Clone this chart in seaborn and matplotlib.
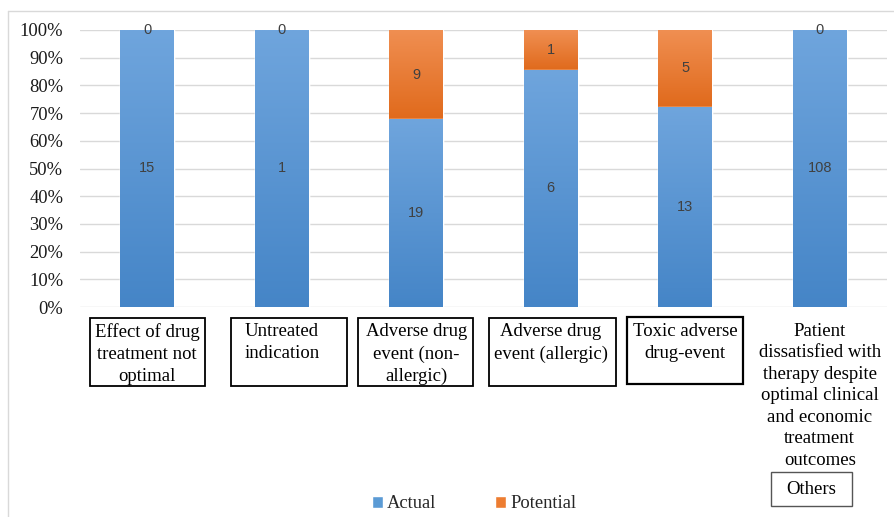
import numpy as np
import pandas as pd
import matplotlib
matplotlib.use("Agg")
import matplotlib.pyplot as plt
from matplotlib.patches import Rectangle, Patch
from matplotlib.colors import LinearSegmentedColormap
import matplotlib.transforms as mtransforms
import seaborn as sns

# ---- data ----
categories = [
    "Effect of drug\ntreatment not\noptimal",
    "Untreated\nindication",
    "Adverse drug\nevent (non-\nallergic)",
    "Adverse drug\nevent (allergic)",
    "Toxic adverse\ndrug-event",
    "Patient\ndissatisfied with\ntherapy despite\noptimal clinical\nand economic\ntreatment\noutcomes",
]
actual = [15, 1, 19, 6, 13, 108]
potential = [0, 0, 9, 1, 5, 0]
yticklabels = ["0%", "10%", "20%", "30%", "40%", "50%", "60%", "70%", "80%", "90%", "100%"]
group_label = "Others"
series_names = ["Actual", "Potential"]

sns.set_theme(style="white")
plt.rcParams["font.family"] = ["Liberation Serif", "DejaVu Serif"]

W, H = 895, 517
fig = plt.figure(figsize=(W / 100, H / 100), dpi=100)
ax = fig.add_axes([80 / W, 1 - 307 / H, 807 / W, 277 / H])

df = pd.DataFrame({"cat": [f"c{i}" for i in range(len(actual))],
                   "actual": actual, "potential": potential})
df["total"] = df["actual"] + df["potential"]
df["act_share"] = df["actual"] / df["total"]
df["tot_share"] = 1.0

BLUE, ORANGE = "#5B9BD5", "#ED7D31"
sns.barplot(data=df, x="cat", y="tot_share", color=ORANGE, width=0.40,
            ax=ax, saturation=1)
sns.barplot(data=df, x="cat", y="act_share", color=BLUE, width=0.40,
            ax=ax, saturation=1)
if ax.get_legend() is not None:
    ax.get_legend().remove()

n = len(actual)
pot_patches = ax.patches[:n]
act_patches = ax.patches[n:2 * n]

blue_cmap = LinearSegmentedColormap.from_list("b", ["#4585C7", "#6FA5DD"])
orange_cmap = LinearSegmentedColormap.from_list("o", ["#E06A1C", "#F08F52"])
grad = np.linspace(0, 1, 256).reshape(-1, 1)


def gradient_fill(patch, cmap, y_start=None):
    x0, y0 = patch.get_x(), patch.get_y()
    w, h = patch.get_width(), patch.get_height()
    if h <= 0:
        return
    y0b = y0 if y_start is None else y_start
    im = ax.imshow(grad, cmap=cmap, aspect="auto", origin="lower",
                   extent=[x0, x0 + w, y0b, y0 + h], zorder=patch.get_zorder() + 0.1,
                   interpolation="bilinear")
    im.set_clip_path(patch)


for i, p in enumerate(pot_patches):
    gradient_fill(p, orange_cmap, y_start=df["act_share"][i])
for p in act_patches:
    p.set_zorder(3)
    gradient_fill(p, blue_cmap)

ax.set_xlim(-0.5, n - 0.5)
ax.set_ylim(0, 1)
ax.set_yticks(np.linspace(0, 1, 11))
ax.set_yticklabels(yticklabels, fontsize=13.3, color="#1a1a1a")
ax.tick_params(axis="y", length=0, pad=12)
ax.set_xticks([])
ax.set_xlabel("")
ax.set_ylabel("")
ax.yaxis.grid(True, color="#D9D9D9", lw=1)
ax.set_axisbelow(True)
for s in ax.spines.values():
    s.set_visible(False)

# data labels
for i in range(n):
    a = df["act_share"][i]
    ax.text(i, a / 2, str(actual[i]), ha="center", va="center", fontsize=10.5,
            family="Liberation Sans", color="#404040", zorder=6)
    ax.text(i, a + (1 - a) / 2, str(potential[i]), ha="center", va="center",
            fontsize=10.5, family="Liberation Sans", color="#404040", zorder=6)

# category labels in boxes
trans = mtransforms.blended_transform_factory(ax.transData, fig.transFigure)
for i, c in enumerate(categories):
    ls = 1.34 if i == n - 1 else 1.40
    top = 323 if i == n - 1 else 323
    ax.text(i, 1 - top / H, c, transform=trans, ha="center", va="top",
            multialignment="center", fontsize=13.5, color="black",
            linespacing=ls, clip_on=False)

boxes = [(90, 318, 205, 386, 1.3, "black"), (231, 318, 347, 386, 1.3, "black"),
         (358, 318, 473, 386, 1.3, "black"), (489, 318, 616, 386, 1.3, "black"),
         (627, 317, 743, 384, 1.6, "black"), (771, 472, 852, 506, 1.0, "#555555")]
for x0, y0, x1, y1, lw, col in boxes:
    fig.add_artist(Rectangle((x0 / W, 1 - y1 / H), (x1 - x0) / W, (y1 - y0) / H,
                             transform=fig.transFigure, fill=False, lw=lw,
                             edgecolor=col))
fig.text(811 / W, 1 - 489 / H, group_label, ha="center", va="center",
         fontsize=13.5, color="black")

# chart-area border (top and left)
fig.add_artist(plt.Line2D([8 / W, 1], [1 - 11 / H, 1 - 11 / H], transform=fig.transFigure,
                          color="#D9D9D9", lw=1))
fig.add_artist(plt.Line2D([8 / W, 8 / W], [0, 1 - 11 / H], transform=fig.transFigure,
                          color="#D9D9D9", lw=1))

# legend
handles = [Patch(facecolor=BLUE, label=series_names[0]),
           Patch(facecolor=ORANGE, label=series_names[1])]
fig.legend(handles=handles, loc="center", bbox_to_anchor=(474 / W, 1 - 504 / H),
           ncol=2, frameon=False, fontsize=13.3, handlelength=0.6, handleheight=0.6,
           handletextpad=0.2, columnspacing=3.2, borderpad=0)

fig.savefig("out.png", dpi=100)
